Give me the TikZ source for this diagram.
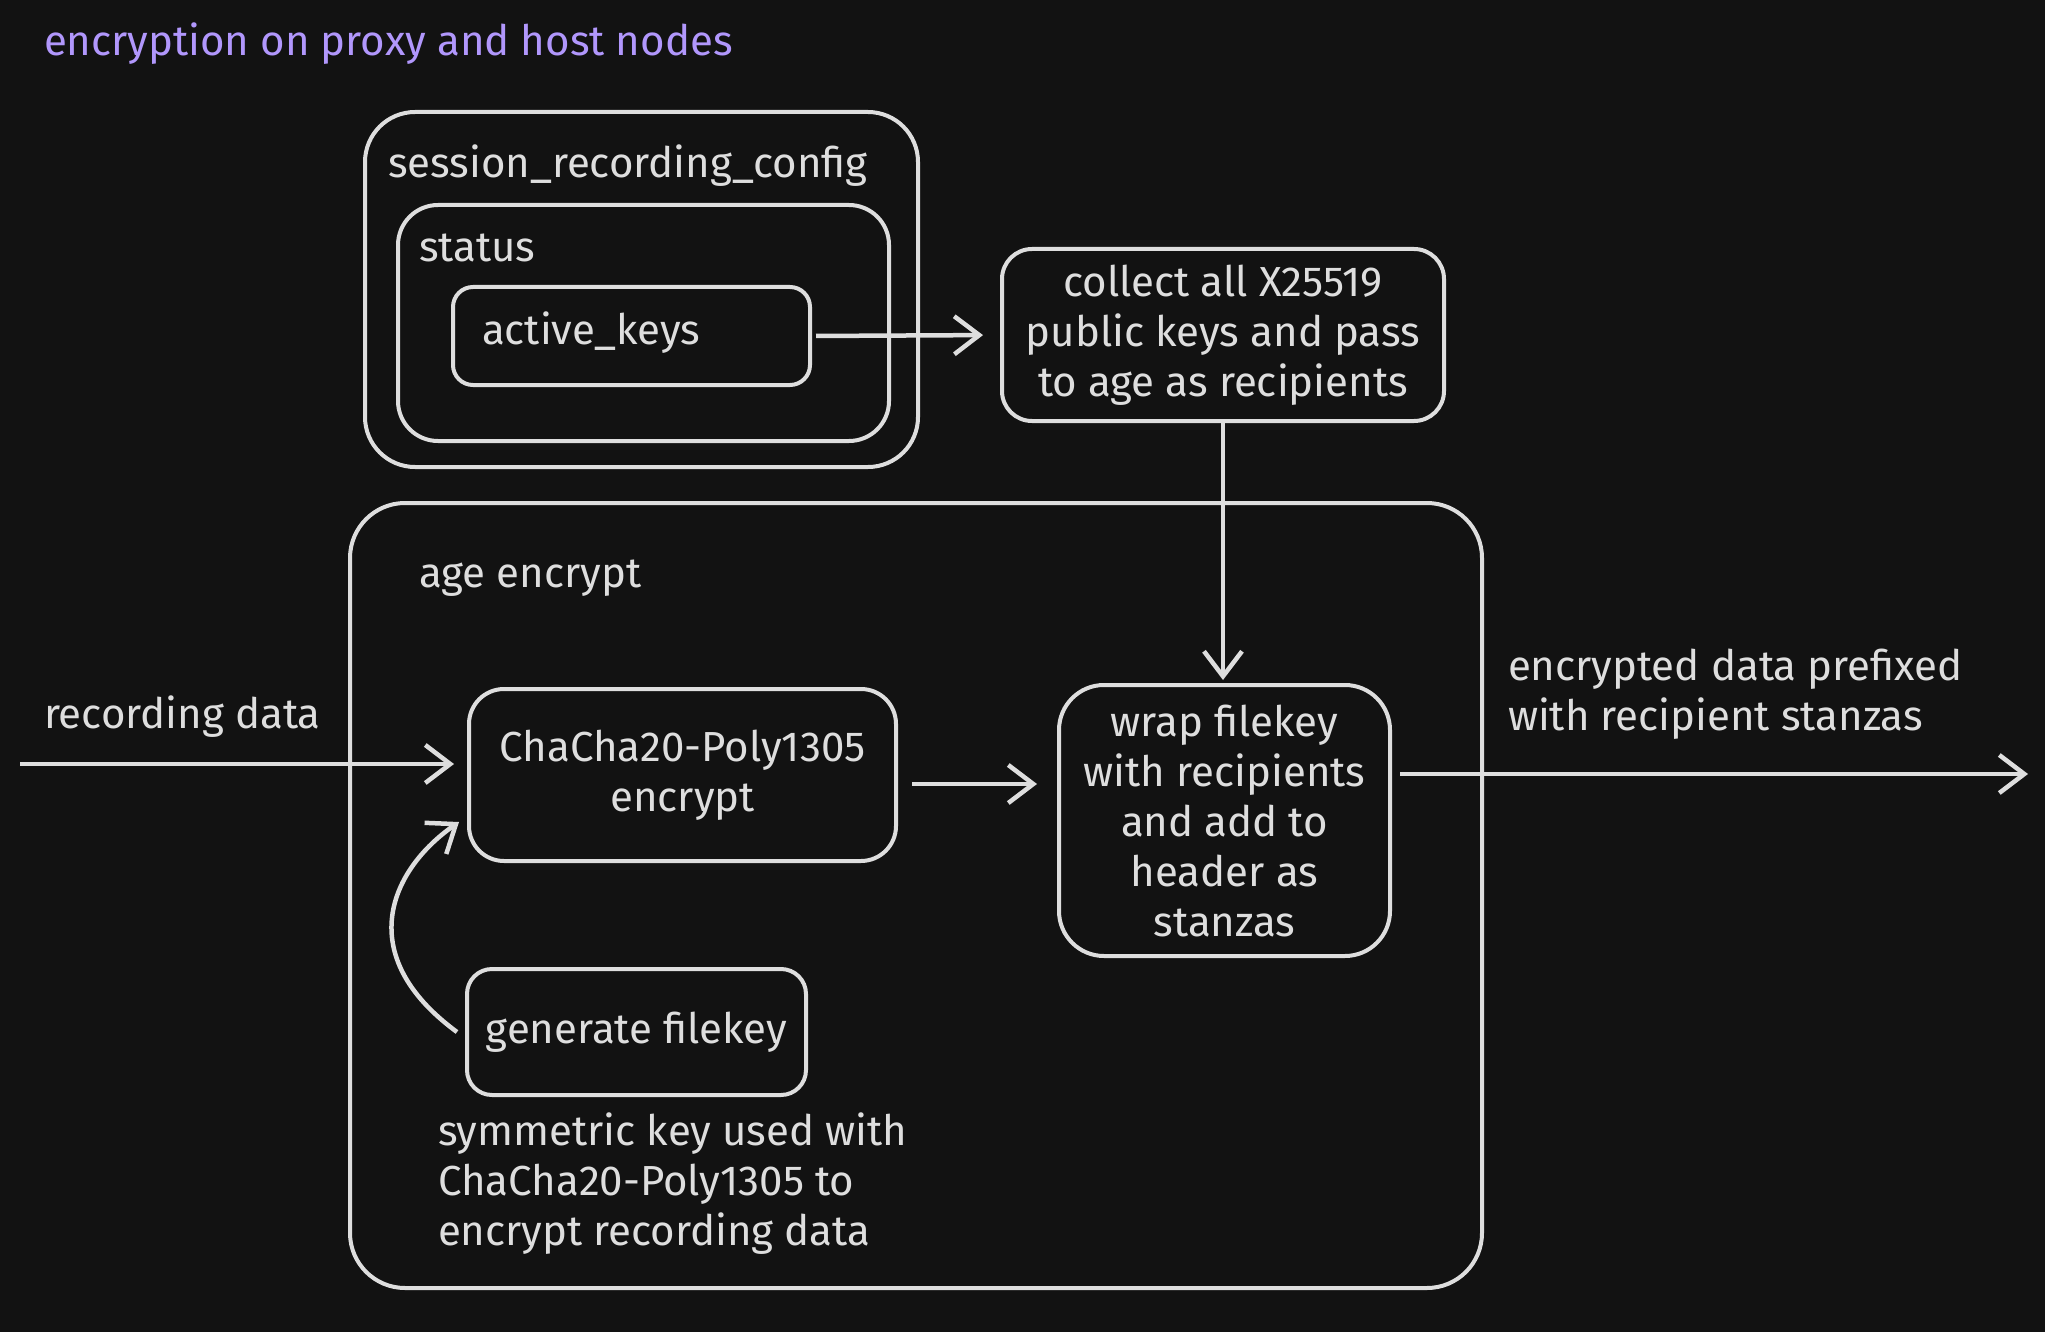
\documentclass[tikz,border=0pt]{standalone}
\usepackage{fontspec}
\setmainfont{Fira Sans}
\usetikzlibrary{arrows.meta,calc}
\definecolor{bg}{RGB}{18,18,18}
\definecolor{ink}{RGB}{222,222,222}
\definecolor{violet}{RGB}{177,151,252}
\tikzset{>={Straight Barb[length=25pt,width=38pt]}}

\begin{document}
\begin{tikzpicture}[x=1pt, y=-1pt, color=ink, line width=4pt,
    font=\fontsize{42}{50}\selectfont,
    box/.style={draw, rounded corners=#1, inner sep=0pt, align=center},
    box/.default=30pt,
    lbl/.style={anchor=west, inner sep=0pt, align=left},
    arr/.style={->, line width=4.5pt}]
  \fill[bg] (0,0) rectangle (2045,1332);
  \useasboundingbox (0,0) rectangle (2045,1332);
  \node[lbl, text=violet] (title) at (42,44) {encryption on proxy and host nodes};
  % config
  \node[box=50pt, minimum width=553pt, minimum height=355pt] (cfg) at (641.5,289.5) {};
  \node[lbl] (cfgl) at (386,166) {session\_recording\_config};
  \node[box=40pt, minimum width=491pt, minimum height=236pt] (status) at (643.5,323) {};
  \node[lbl] (statusl) at (417,248) {status};
  \node[box=20pt, minimum width=357pt, minimum height=98pt] (keys) at (631.5,336) {};
  \node[lbl] (keysl) at (480,333) {active\_keys};
  \node[box, minimum width=442pt, minimum height=172pt] (collect) at (1223,335)
    {collect all X25519\\public keys and pass\\to age as recipients};
  % age
  \node[box=55pt, minimum width=1132pt, minimum height=785pt] (age) at (916,895.5) {};
  \node[lbl] (agel) at (417,578) {age encrypt};
  \node[box=35pt, minimum width=427pt, minimum height=172pt] (chacha) at (682.5,775)
    {ChaCha20-Poly1305\\encrypt};
  \node[box=45pt, minimum width=331pt, minimum height=271pt] (wrap) at (1224.5,820.5)
    {wrap filekey\\with recipients\\and add to\\header as\\stanzas};
  \node[box=25pt, minimum width=339pt, minimum height=126pt] (gen) at (636.5,1032)
    {generate filekey};
  \node[lbl] (note) at (436,1184)
    {symmetric key used with\\ChaCha20-Poly1305 to\\encrypt recording data};
  \node[lbl] (inl) at (42,717) {recording data};
  \node[lbl] (outl) at (1506,694) {encrypted data prefixed\\with recipient stanzas};
  \coordinate (in) at (20,764);
  \coordinate (out) at (2028,774);

  \draw[arr, shorten <=4pt, shorten >=17pt] (keys.east) -- (collect.west);
  \draw[arr, shorten >=3pt] (collect.south) -- (collect.south |- wrap.north);
  \draw[arr, shorten >=13pt] (in) -- (in -| chacha.west);
  \draw[arr, shorten <=14pt, shorten >=20pt] ([yshift=-9pt]chacha.east) -- ([yshift=-9pt]chacha.east -| wrap.west);
  \draw[arr, shorten <=8pt] (out -| wrap.east) -- (out);
  \draw[arr] ([xshift=-8pt]gen.west) .. controls (352,955) and (390,870) .. (459,822);
\end{tikzpicture}
\end{document}
